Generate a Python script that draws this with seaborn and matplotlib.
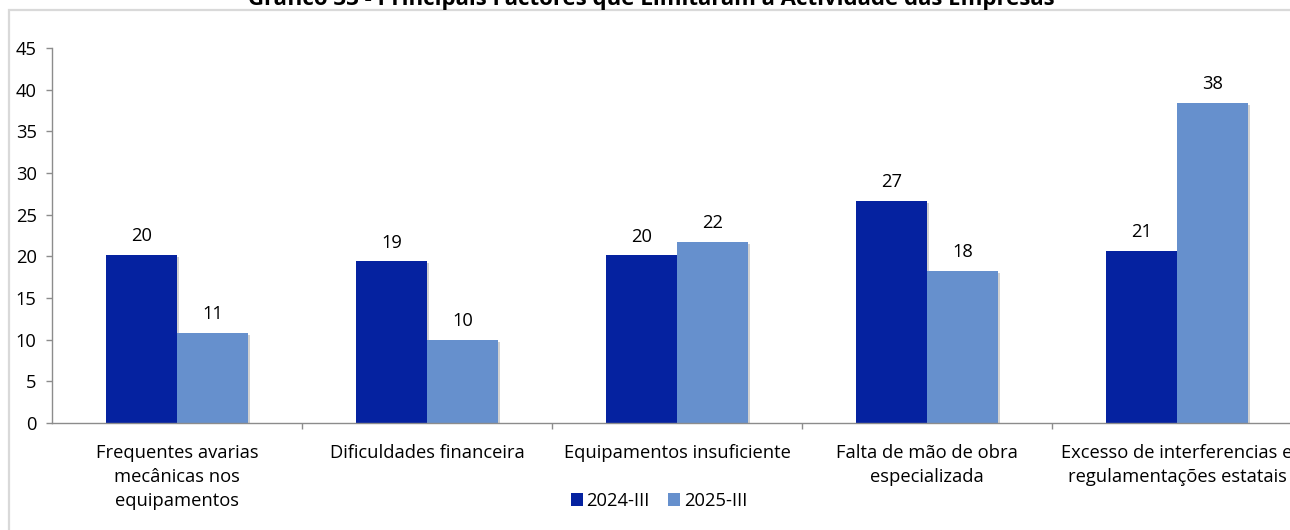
import matplotlib
matplotlib.use("Agg")
import matplotlib.pyplot as plt
import matplotlib.patheffects as pe
from matplotlib.patches import Rectangle, Patch
from matplotlib.ticker import FixedLocator, MultipleLocator
import pandas as pd
import seaborn as sns

# --- data -------------------------------------------------------------
categories = [
    "Frequentes avarias\nmecânicas nos\nequipamentos",
    "Dificuldades financeira",
    "Equipamentos insuficiente",
    "Falta de mão de obra\nespecializada",
    "Excesso de interferencias e\nregulamentações estatais",
]
periods = ["2024-III", "2025-III"]
values_2024 = [20.2, 19.4, 20.1, 26.7, 20.7]
values_2025 = [10.8, 10.0, 21.7, 18.3, 38.4]
title = "Gráfico 33 - Principais Factores que Limitaram a Actividade das Empresas"

df = pd.DataFrame({
    "factor": categories * 2,
    "periodo": [periods[0]] * len(categories) + [periods[1]] * len(categories),
    "valor": values_2024 + values_2025,
})

palette = {"2024-III": "#0522A0", "2025-III": "#6690CD"}

# --- figure -----------------------------------------------------------
sns.set_theme(style="white")
plt.rcParams["font.family"] = ["Open Sans", "DejaVu Sans"]
FS = 13.2

W, H = 1290, 530
fig = plt.figure(figsize=(W / 100, H / 100), dpi=100)
fig.patch.set_facecolor("white")

# chart-area frame (light grey line on the left and top)
fig.patches.append(Rectangle((9 / W, -0.1), 1.2, (H - 9.5) / H + 0.1,
                             transform=fig.transFigure, fill=False,
                             edgecolor="#D9D9D9", linewidth=1.6, zorder=0))

ax = fig.add_axes([52 / W, 107 / H, 1250 / W, 375 / H])
ax.set_facecolor("none")

sns.barplot(data=df, x="factor", y="valor", hue="periodo",
            order=categories, hue_order=periods, palette=palette,
            width=0.57, gap=0, saturation=1, errorbar=None,
            edgecolor="none", linewidth=0, legend=False, ax=ax)

shadow = [pe.SimplePatchShadow(offset=(1.5, -1.5), shadow_rgbFace="#9A9A9A", alpha=0.45),
          pe.Normal()]
for bar in ax.patches:
    bar.set_path_effects(shadow)

for cont in ax.containers:
    ax.bar_label(cont, labels=[f"{v:.0f}" for v in cont.datavalues],
                 padding=7, fontsize=FS, color="#000000")

# --- axes styling -----------------------------------------------------
ax.set_xlim(-0.5, len(categories) - 0.5)
ax.set_ylim(0, 45)
ax.yaxis.set_major_locator(MultipleLocator(5))
ax.set_xlabel("")
ax.set_ylabel("")

for side in ("top", "right"):
    ax.spines[side].set_visible(False)
for side in ("left", "bottom"):
    ax.spines[side].set_color("#8C8C8C")
    ax.spines[side].set_linewidth(1.0)

ax.tick_params(axis="y", which="major", direction="out", length=4, width=1,
               color="#8C8C8C", labelsize=FS, labelcolor="#000000", pad=7, left=True)
ax.tick_params(axis="x", which="major", length=0, labelsize=FS,
               labelcolor="#000000", pad=15)
ax.xaxis.set_minor_locator(FixedLocator([i + 0.5 for i in range(len(categories))]))
ax.tick_params(axis="x", which="minor", direction="out", length=4, width=1,
               color="#8C8C8C", bottom=True)
for lbl in ax.get_xticklabels():
    lbl.set_linespacing(1.45)
    lbl.set_va("top")

# --- legend -----------------------------------------------------------
handles = [Patch(facecolor=palette[p], edgecolor="none", label=p) for p in periods]
fig.legend(handles=handles, loc="center", bbox_to_anchor=(659 / W, 1 - 501 / H),
           ncol=2, frameon=False, fontsize=FS, handlelength=0.65, handleheight=0.65,
           handletextpad=0.2, columnspacing=1.0, labelcolor="#000000")

# --- title (sits at the very top edge) -------------------------------
fig.text(651 / W, 1 - 5 / H, title, ha="center", va="baseline",
         fontsize=16, fontweight="bold", color="#000000")

fig.savefig("out.png", dpi=100, facecolor="white")
